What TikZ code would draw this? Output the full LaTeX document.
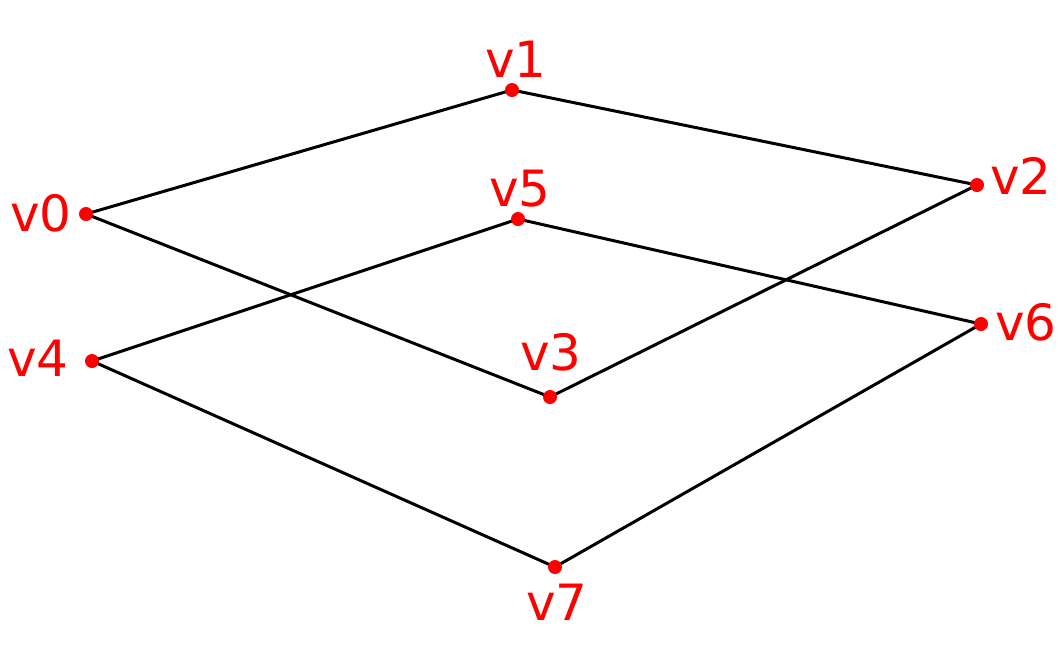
\documentclass[tikz,border=0pt]{standalone}
\usepackage{fontspec}
\setmainfont{DejaVu Sans}
\pgfdeclarelayer{bg}
\pgfsetlayers{bg,main}
\begin{document}
\begin{tikzpicture}[x=0.5pt,y=-0.5pt,
  vdot/.style={circle,fill=red,inner sep=0pt,minimum size=7pt},
  vlab/.style={text=red,inner sep=0pt,font=\fontsize{25}{30}\selectfont},
  edge/.style={draw=black,line width=1.5pt}]
\useasboundingbox (0,0) rectangle (1061,645);
\node[vdot] (v0) at (86,214) {};
\node[vdot] (v1) at (512,90) {};
\node[vdot] (v2) at (977,185) {};
\node[vdot] (v3) at (550,397) {};
\node[vdot] (v4) at (92,361) {};
\node[vdot] (v5) at (518,219) {};
\node[vdot] (v6) at (981,324) {};
\node[vdot] (v7) at (555,567) {};
\begin{pgfonlayer}{bg}
\draw[edge] (v0.center) -- (v1.center) -- (v2.center) -- (v3.center) -- (v0.center);
\draw[edge] (v4.center) -- (v5.center) -- (v6.center) -- (v7.center) -- (v4.center);
\end{pgfonlayer}
\node[vlab] (l0) at (41,213) {v0};
\node[vlab] (l1) at (516,59) {v1};
\node[vlab] (l2) at (1021,176) {v2};
\node[vlab] (l3) at (551,352) {v3};
\node[vlab] (l4) at (38,358) {v4};
\node[vlab] (l5) at (520,189) {v5};
\node[vlab] (l6) at (1026,322) {v6};
\node[vlab] (l7) at (557,602) {v7};
\end{tikzpicture}
\end{document}
